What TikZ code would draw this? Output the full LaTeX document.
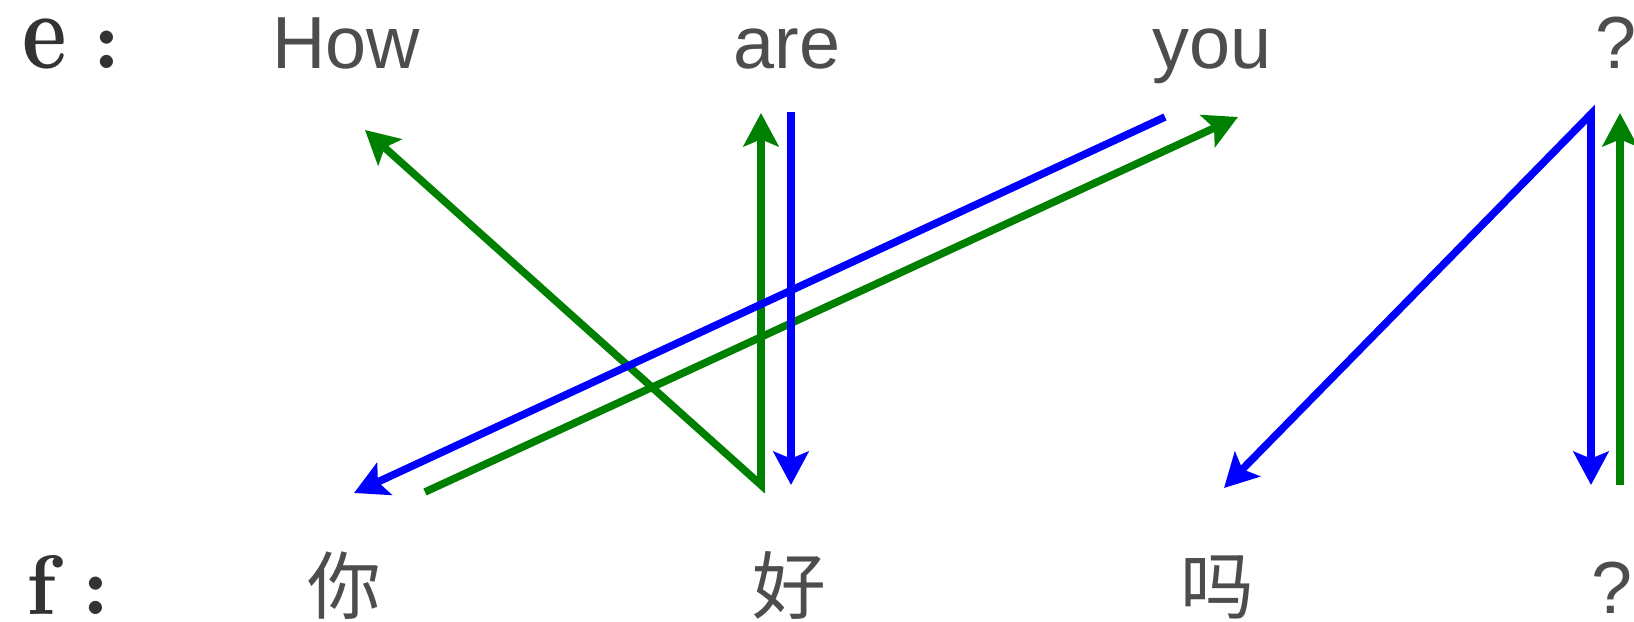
\documentclass[tikz,border=0pt]{standalone}
\usepackage{fontspec}
\setmainfont{Liberation Sans}
\newfontfamily\cjk{Noto Sans CJK SC}
\newfontfamily\lmbold{lmroman10}[Extension=.otf, UprightFont=*-bold]
\usepackage{tikz}
\usetikzlibrary{arrows.meta}
\definecolor{wordgray}{RGB}{77,77,77}
\definecolor{labelgray}{RGB}{51,51,51}
\definecolor{alignblue}{RGB}{0,0,255}
\definecolor{aligngreen}{RGB}{0,128,0}
\tikzset{
    word/.style={inner sep=0pt, anchor=base, text=wordgray, font=\fontsize{42}{48}\selectfont},
    cword/.style={word, font=\cjk\fontsize{42}{48}\selectfont},
    side/.style={inner sep=0pt, anchor=base west, text=labelgray, font=\lmbold\fontsize{48}{54}\selectfont},
    align/.style={line width=4.3pt, -{Stealth[length=19pt,width=20pt,inset=4pt]}},
    ealign/.style={align, alignblue},
    falign/.style={align, aligngreen}
}
\begin{document}
\begin{tikzpicture}[x=0.02cm, y=-0.02cm]
    \useasboundingbox (0,0) rectangle (1634,622);
    % sentence e
    \node[side] (lble) at (22,68) {\scalebox{1}[1.3]{e}\hspace{15pt}:};
    \node[word] (how) at (346,68) {How};
    \node[word] (are) at (787,68) {are};
    \node[word] (you) at (1212,68) {you};
    \node[word] (qe)  at (1616,68) {?};
    % sentence f
    \node[side] (lblf) at (26,614) {f\hspace{15pt}:};
    \node[cword] (ni)  at (344,613) {你};
    \node[cword] (hao) at (789,613) {好};
    \node[cword] (ma)  at (1217,613) {吗};
    \node[word]  (qf)  at (1612,613) {?};

    % end points of the alignment links
    \coordinate (gHow) at (365,130);
    \coordinate (gHao) at (761,485);
    \coordinate (gAre) at (761,113);
    \coordinate (gNi)  at (425,492);
    \coordinate (gYou) at (1238,117);
    \coordinate (gQf)  at (1620,485);
    \coordinate (gQe)  at (1620,113);
    \coordinate (bAre) at (791,112);
    \coordinate (bHao) at (791,485);
    \coordinate (bYou) at (1165,117);
    \coordinate (bNi)  at (354,493);
    \coordinate (bQe)  at (1591,114);
    \coordinate (bMa)  at (1224,488);
    \coordinate (bQf)  at (1591,485);

    % f -> e
    \draw[falign, {Stealth[length=19pt,width=20pt,inset=4pt]}-{Stealth[length=19pt,width=20pt,inset=4pt]}] (gHow) -- (gHao) -- (gAre);
    \draw[falign] (gNi) -- (gYou);
    \draw[falign] (gQf) -- (gQe);
    % e -> f
    \draw[ealign] (bAre) -- (bHao);
    \draw[ealign] (bYou) -- (bNi);
    \draw[ealign, {Stealth[length=19pt,width=20pt,inset=4pt]}-{Stealth[length=19pt,width=20pt,inset=4pt]}] (bMa) -- (bQe) -- (bQf);
\end{tikzpicture}
\end{document}
